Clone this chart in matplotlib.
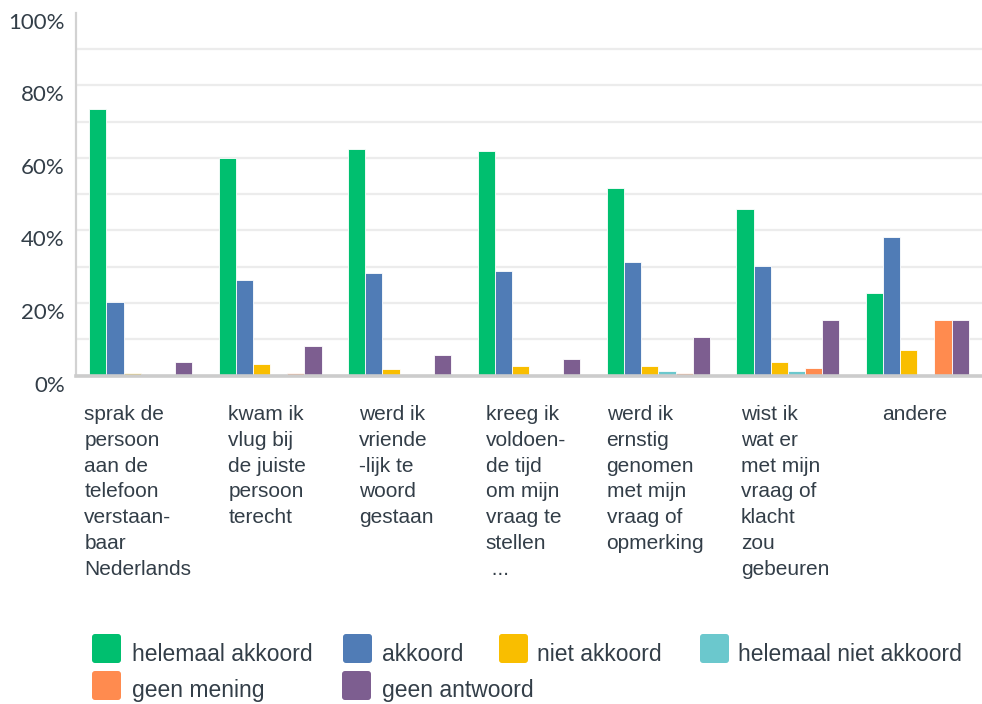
import matplotlib
matplotlib.use("Agg")
import matplotlib.pyplot as plt
import numpy as np
from matplotlib.patches import FancyBboxPatch
from matplotlib.transforms import ScaledTranslation, IdentityTransform

# ---- data -------------------------------------------------------------
categories = [
    "sprak de\npersoon\naan de\ntelefoon\nverstaan-\nbaar\nNederlands",
    "kwam ik\nvlug bij\nde juiste\npersoon\nterecht",
    "werd ik\nvriende\n-lijk te\nwoord\ngestaan",
    "kreeg ik\nvoldoen-\nde tijd\nom mijn\nvraag te\nstellen\n ...",
    "werd ik\nernstig\ngenomen\nmet mijn\nvraag of\nopmerking",
    "wist ik\nwat er\nmet mijn\nvraag of\nklacht\nzou\ngebeuren",
    "andere",
]

series_names = [
    "helemaal akkoord",
    "akkoord",
    "niet akkoord",
    "helemaal niet akkoord",
    "geen mening",
    "geen antwoord",
]

helemaal_akkoord = [73.4, 59.9, 62.4, 61.9, 51.7, 45.9, 22.8]
akkoord = [20.3, 26.3, 28.3, 28.8, 31.3, 30.2, 38.2]
niet_akkoord = [0.7, 3.2, 1.7, 2.6, 2.6, 3.7, 7.1]
helemaal_niet_akkoord = [0, 0, 0, 0, 1.2, 1.3, 0]
geen_mening = [0, 0.8, 0, 0, 0.7, 2.2, 15.3]
geen_antwoord = [3.7, 8.2, 5.7, 4.6, 10.6, 15.3, 15.3]

series_values = [helemaal_akkoord, akkoord, niet_akkoord,
                 helemaal_niet_akkoord, geen_mening, geen_antwoord]

y_ticks = [0, 20, 40, 60, 80, 100]
y_tick_labels = ["0%", "20%", "40%", "60%", "80%", "100%"]

colors = ["#00bf6f", "#507cb6", "#f9be00", "#6bc8cd", "#ff8b4f", "#7d5e90"]
text_color = "#333e48"

# ---- figure -----------------------------------------------------------
W, H = 982, 704
fig = plt.figure(figsize=(W / 100, H / 100), dpi=100)
ax = fig.add_axes([76 / W, (H - 375.6) / H, (W - 76) / W, 363 / H])
ax.set_xlim(-0.5, len(categories) - 0.5)
ax.set_ylim(0, 100)

# light horizontal gridlines every 10 %
for g in range(10, 100, 10):
    ax.axhline(g, color="#ececec", lw=1.6, zorder=0)

# grouped bars
n = len(series_values)
bw = 0.1323
x = np.arange(len(categories))
for i, (vals, col) in enumerate(zip(series_values, colors)):
    offs = (i - (n - 1) / 2) * bw
    xs = [xx + offs for xx, v in zip(x, vals) if v > 0]
    hs = [v for v in vals if v > 0]
    ax.bar(xs, hs, width=bw, color=col, edgecolor="white", linewidth=0.6,
           zorder=2)

# spines
for s in ["top", "right"]:
    ax.spines[s].set_visible(False)
ax.spines["left"].set_color("#d2d2d2")
ax.spines["left"].set_linewidth(1.6)
ax.spines["bottom"].set_color("#cccccc")
ax.spines["bottom"].set_linewidth(2.6)
ax.spines["bottom"].set_zorder(3)

# y axis labels
ax.set_yticks(y_ticks)
ax.set_yticklabels(y_tick_labels, fontfamily="Lato", fontsize=16,
                   color=text_color)
ax.tick_params(axis="y", length=0, pad=8)
for lab in ax.get_yticklabels():
    lab.set_transform(lab.get_transform() +
                      ScaledTranslation(0, -8 / 100, fig.dpi_scale_trans))

# x axis labels
ax.set_xticks(x)
ax.set_xticklabels(categories, fontfamily="Liberation Sans", fontsize=15,
                   color=text_color, linespacing=1.46, ha="center",
                   multialignment="left")
ax.tick_params(axis="x", length=0, pad=21)
for lab in ax.get_xticklabels():
    lab.set_transform(lab.get_transform() +
                      ScaledTranslation(-3 / 100, 0, fig.dpi_scale_trans))

# ---- legend (two rows) ------------------------------------------------
legend_slots = [
    (92, 634, 132, 661),
    (343, 634, 382, 661),
    (499, 634, 537, 661),
    (700, 634, 738, 661),
    (92, 671, 132, 697),
    (342, 671, 382, 697),
]
sq = 29
for (sx, sy, tx, ty), name, col in zip(legend_slots, series_names, colors):
    patch = FancyBboxPatch((sx + 3, H - sy - sq + 3), sq - 6, sq - 6,
                           boxstyle="round,pad=3",
                           facecolor=col, edgecolor="none",
                           transform=IdentityTransform(), figure=fig)
    fig.patches.append(patch)
    fig.text(tx / W, (H - ty) / H, name, fontfamily="Liberation Sans",
             fontsize=16.5, color=text_color, va="baseline", ha="left")

fig.savefig("out.png", dpi=100, facecolor="white")
